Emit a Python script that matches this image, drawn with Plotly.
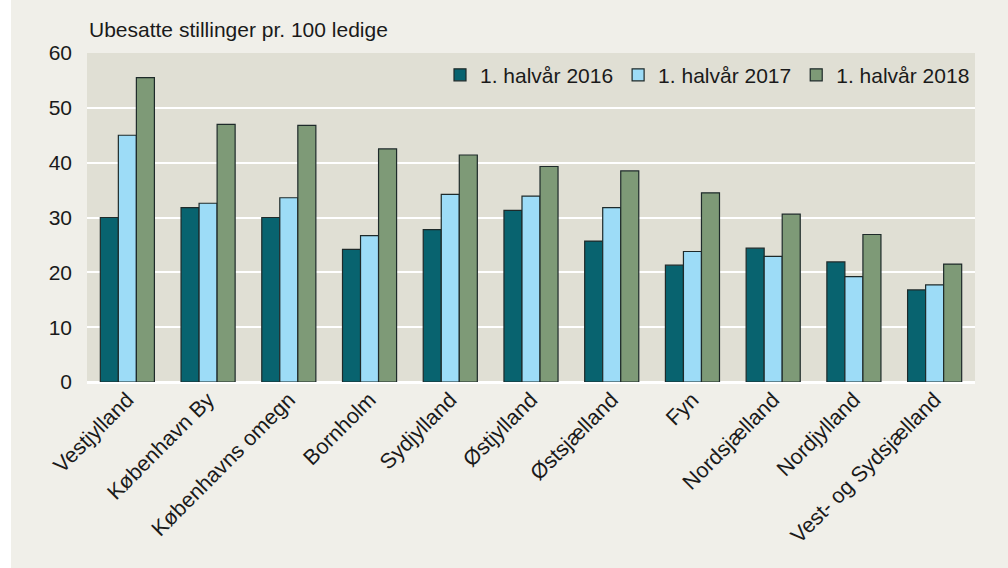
import plotly.graph_objects as go

categories = ["Vestjylland", "København By", "Københavns omegn", "Bornholm", "Sydjylland",
              "Østjylland", "Østsjælland", "Fyn", "Nordsjælland", "Nordjylland",
              "Vest- og Sydsjælland"]
s2016 = [30.0, 31.8, 30.0, 24.2, 27.8, 31.3, 25.7, 21.3, 24.4, 21.9, 16.8]
s2017 = [45.0, 32.6, 33.6, 26.7, 34.2, 33.9, 31.8, 23.8, 22.9, 19.2, 17.7]
s2018 = [55.5, 47.0, 46.8, 42.5, 41.4, 39.3, 38.5, 34.5, 30.6, 26.9, 21.5]
series_names = ["1. halvår 2016", "1. halvår 2017", "1. halvår 2018"]
colors = ["#08636f", "#9ddcf7", "#7e9a77"]
yticks = [0, 10, 20, 30, 40, 50, 60]

FONT = "Liberation Sans, Arial, sans-serif"
TXT = "#1a1a1a"

fig = go.Figure()
for name, vals, col in zip(series_names, [s2016, s2017, s2018], colors):
    fig.add_trace(go.Bar(
        x=categories, y=vals, name=name,
        marker=dict(color=col, line=dict(color="#1e2a2a", width=1.2)),
    ))

fig.update_layout(
    width=1008, height=568,
    barmode="group", bargap=0.33, bargroupgap=0.0,
    paper_bgcolor="#f0efe9", plot_bgcolor="#e0dfd4",
    margin=dict(l=87, r=33, t=53, b=186),
    font=dict(family=FONT, size=21, color=TXT),
    showlegend=True,
    legend=dict(orientation="h", x=1.0, xanchor="right", y=0.995, yanchor="top",
                bgcolor="#e0dfd4", font=dict(size=21, family=FONT, color=TXT),
                itemwidth=30, tracegroupgap=0, traceorder="normal"),
    xaxis=dict(tickangle=-45, tickfont=dict(size=21.5, family=FONT, color=TXT),
               showgrid=False, showline=False, ticks=""),
    yaxis=dict(range=[0, 60], tickvals=yticks, showgrid=True, gridcolor="#ffffff",
               gridwidth=2, zeroline=True, zerolinecolor="#ffffff", zerolinewidth=3,
               tickfont=dict(size=21, family=FONT, color=TXT), ticks="",
               ticklabelstandoff=14),
    annotations=[dict(text="Ubesatte stillinger pr. 100 ledige", xref="paper", yref="paper",
                      x=0, y=1.0, xanchor="left", yanchor="bottom", yshift=10,
                      showarrow=False, font=dict(size=21, family=FONT, color=TXT))],
    shapes=[dict(type="rect", xref="paper", yref="paper", x0=-0.1, x1=-0.0856,
                 y0=-0.7, y1=1.2, fillcolor="#ffffff", line=dict(width=0), layer="below")],
)

fig.write_html("out.html", config={"displayModeBar": False},
               post_script="document.body.style.margin='0';")
